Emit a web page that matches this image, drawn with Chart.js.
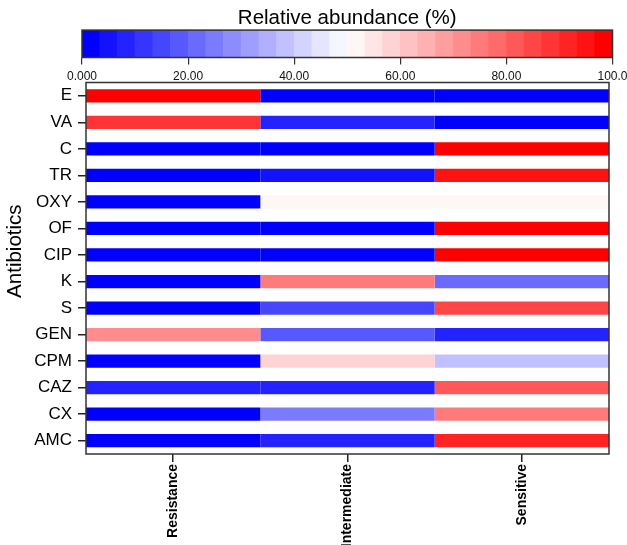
<!DOCTYPE html>
<html>
<head>
<meta charset="utf-8">
<script src="https://cdn.jsdelivr.net/npm/chart.js@4.4.1/dist/chart.umd.min.js"></script>
<style>
  body { margin: 0; background: #fff; }
  #wrap { position: relative; width: 627px; height: 545px; }
  #wrap canvas { position: absolute; left: 0; top: 0; }
</style>
</head>
<body>
<div id="wrap">
  <canvas id="heat" width="627" height="545"></canvas>
  <canvas id="bar" width="627" height="85"></canvas>
</div>
<script>
const antibiotics = ['E', 'VA', 'C', 'TR', 'OXY', 'OF', 'CIP', 'K', 'S', 'GEN', 'CPM', 'CAZ', 'CX', 'AMC'];
const columns = ['Resistance', 'Intermediate', 'Sensitive'];

// relative abundance (%) per antibiotic
const resistance   = [100, 89, 0, 0, 0, 0, 0, 0, 0, 72, 0, 8, 0, 0];
const intermediate = [0, 9, 0, 5, 50, 0, 0, 75, 15, 18, 58, 8, 25, 8];
const sensitive    = [0, 0, 100, 95, 50, 100, 100, 22, 85, 9, 39, 83, 75, 92];

const colorTicks = [0, 20, 40, 60, 80, 100];
const nBins = 30;
const FONT = "'Liberation Sans', Arial, sans-serif";

// blue - white - red ramp cut into 30 steps
function binColor(v) {
    const i = Math.min(nBins - 1, Math.floor(v / 100 * nBins));
    const t = i / (nBins - 1);
    if (t <= 0.5) {
        const c = Math.round(255 * t / 0.5);
        return `rgb(${c},${c},255)`;
    }
    const c = Math.round(255 * (1 - t) / 0.5);
    return `rgb(255,${c},${c})`;
}

const frame = {
    id: 'frame',
    afterDraw(chart) {
        const {ctx, chartArea: a} = chart;
        ctx.save();
        ctx.strokeStyle = '#333';
        ctx.lineWidth = 1.5;
        ctx.strokeRect(a.left, a.top, a.right - a.left, a.bottom - a.top);
        ctx.restore();
    }
};

// heatmap
const series = [resistance, intermediate, sensitive];
new Chart(document.getElementById('heat'), {
    type: 'bar',
    data: {
        labels: antibiotics,
        datasets: series.map((vals, col) => ({
            label: columns[col],
            data: vals.map(() => [col, col + 1]),
            backgroundColor: vals.map(binColor),
            borderWidth: 0,
            grouped: false,
            barPercentage: 0.5,
            categoryPercentage: 1
        }))
    },
    options: {
        indexAxis: 'y',
        responsive: false,
        animation: false,
        layout: {padding: {top: 82.5, right: 18, left: 0, bottom: 0}},
        plugins: {legend: {display: false}, tooltip: {enabled: false}},
        scales: {
            x: {
                type: 'linear',
                min: 0,
                max: 3,
                afterBuildTicks: scale => {
                    scale.ticks = columns.map((c, i) => ({value: i + 0.5}));
                },
                afterFit: scale => { scale.height = 91; },
                ticks: {
                    callback: v => columns[Math.floor(v)],
                    minRotation: 90,
                    maxRotation: 90,
                    autoSkip: false,
                    color: '#000',
                    padding: 2,
                    font: {family: FONT, size: 14, weight: 'bold'}
                },
                grid: {drawOnChartArea: false, drawTicks: true, tickLength: 8, color: '#222', lineWidth: 1.5},
                border: {display: false}
            },
            y: {
                afterFit: scale => { scale.width = 86; },
                ticks: {
                    color: '#000',
                    padding: 6,
                    font: {family: FONT, size: 17}
                },
                grid: {drawOnChartArea: false, drawTicks: true, tickLength: 8, color: '#222', lineWidth: 1.5, offset: false},
                border: {display: false},
                title: {
                    display: true,
                    // leading spaces lift the label a little above the centre, as in the original
                    text: '      Antibiotics',
                    color: '#000',
                    padding: 3,
                    font: {family: FONT, size: 20.5}
                }
            }
        }
    },
    plugins: [frame]
});

// colour key
const bins = Array.from({length: nBins}, (_, i) => (i + 0.5) * 100 / nBins);
new Chart(document.getElementById('bar'), {
    type: 'bar',
    data: {
        labels: bins.map(String),
        datasets: [{
            data: bins.map(() => 1),
            backgroundColor: bins.map(binColor),
            borderWidth: 0,
            barPercentage: 1,
            categoryPercentage: 1,
            xAxisID: 'x'
        }]
    },
    options: {
        responsive: false,
        animation: false,
        layout: {padding: {top: 0, right: 14.5, left: 82, bottom: 0}},
        plugins: {
            legend: {display: false},
            tooltip: {enabled: false},
            title: {
                display: true,
                text: 'Relative abundance (%)',
                color: '#000',
                padding: {top: 6.5, bottom: -1},
                font: {family: FONT, size: 20.5, weight: 'normal'}
            }
        },
        scales: {
            x: {display: false, offset: true},
            x2: {
                type: 'linear',
                position: 'bottom',
                min: 0,
                max: 100,
                offset: false,
                afterBuildTicks: scale => {
                    scale.ticks = colorTicks.map(v => ({value: v}));
                },
                afterFit: scale => {
                    scale.height = 85 - 57.5;
                    scale.paddingLeft = 0;
                    scale.paddingRight = 0;
                },
                ticks: {
                    callback: v => v.toPrecision(4),
                    color: '#111',
                    padding: 5,
                    maxRotation: 0,
                    font: {family: FONT, size: 12}
                },
                grid: {offset: false, drawOnChartArea: false, drawTicks: true, tickLength: 7, color: '#333', lineWidth: 1.2},
                border: {display: false}
            },
            y: {display: false, min: 0, max: 1}
        }
    },
    plugins: [frame]
});
</script>
</body>
</html>
